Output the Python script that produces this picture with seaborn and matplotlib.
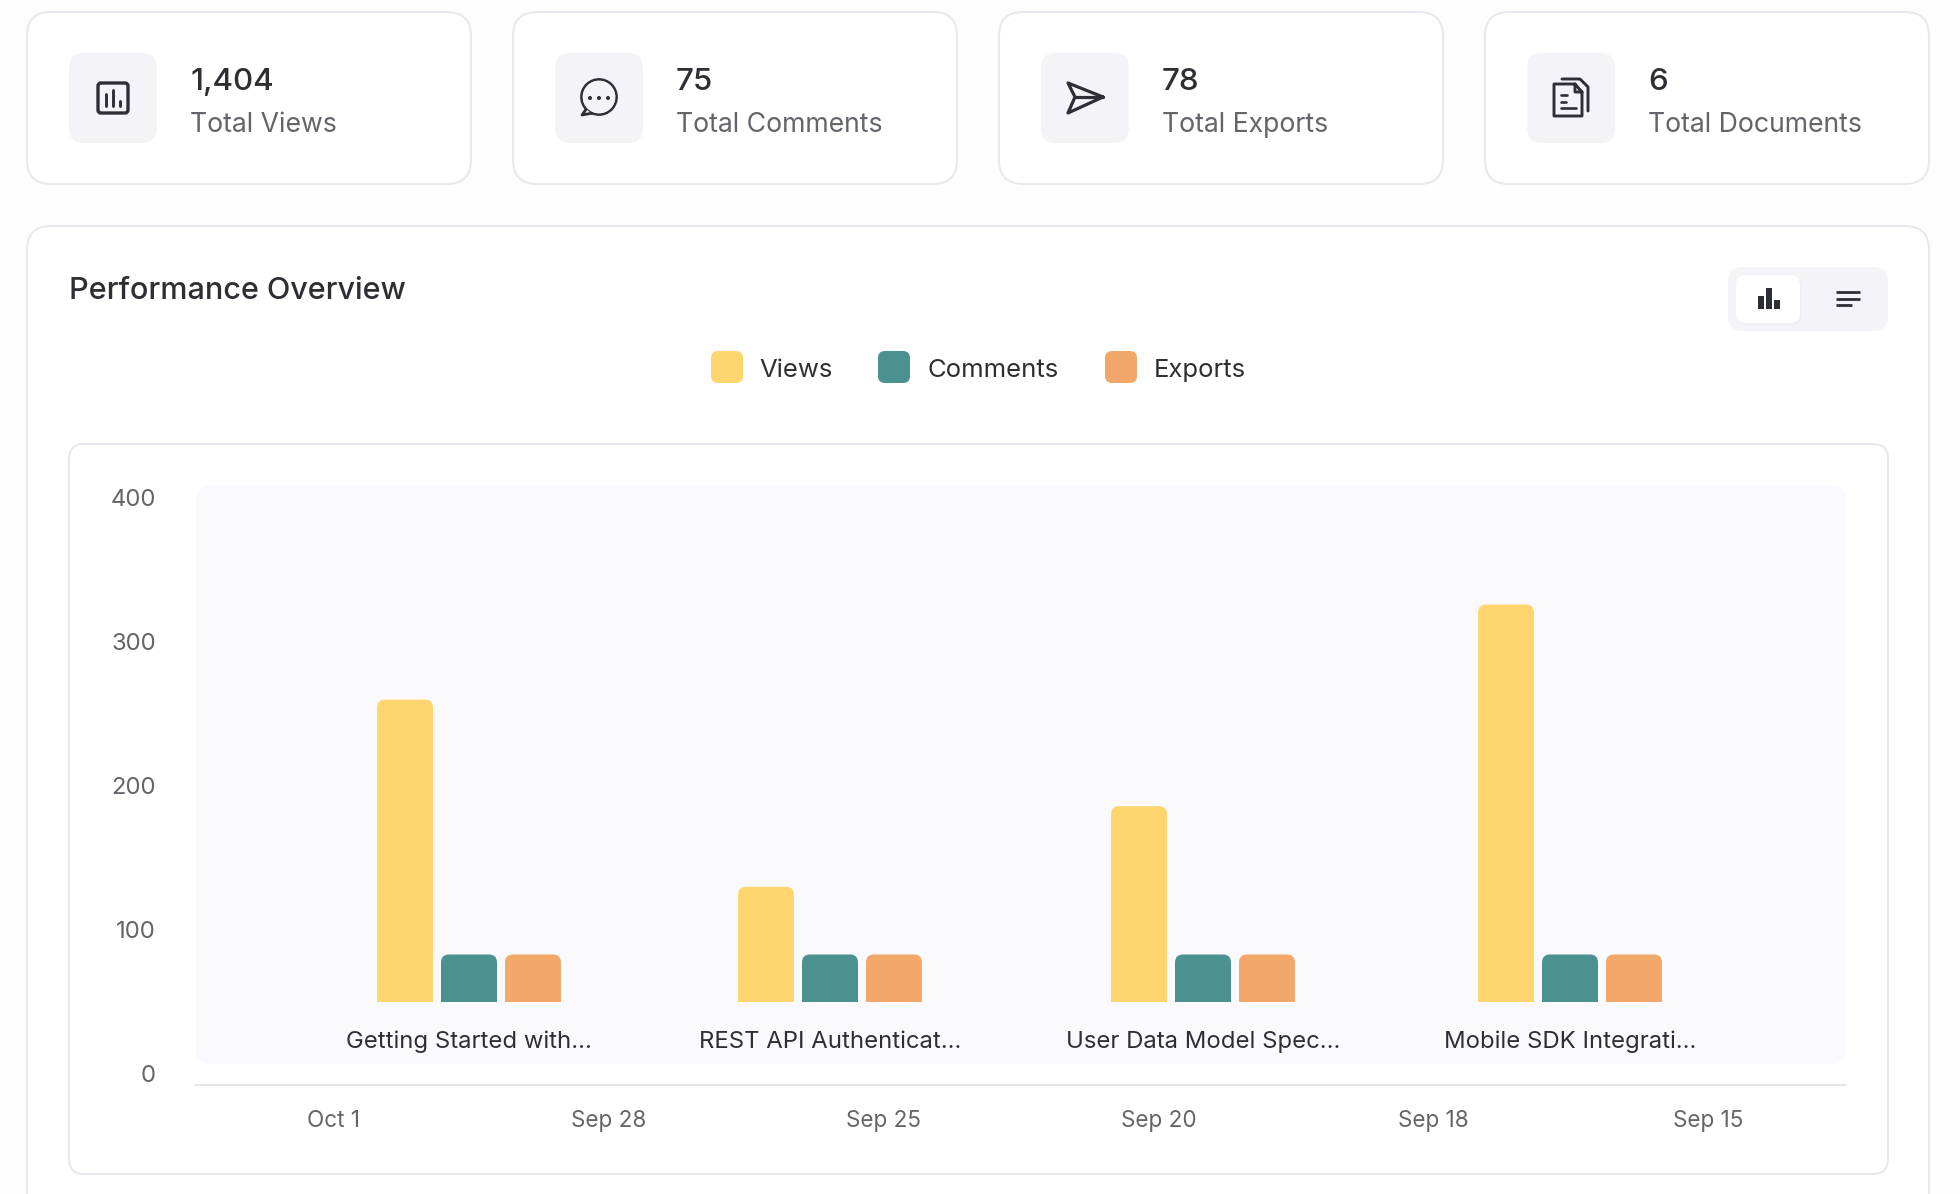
import pandas as pd
import matplotlib
matplotlib.use('Agg')
import matplotlib.pyplot as plt
import seaborn as sns
from matplotlib.patches import FancyBboxPatch, PathPatch, Circle, Polygon, Rectangle
from matplotlib.path import Path

# chart values
documents = ['Getting Started with...', 'REST API Authenticat...', 'User Data Model Spec...', 'Mobile SDK Integrati...']
views = [210, 80, 136, 276]
comments = [33, 33, 33, 33]
exports = [33, 33, 33, 33]
y_ticks = [0, 100, 200, 300, 400]
dates = ['Oct 1', 'Sep 28', 'Sep 25', 'Sep 20', 'Sep 18', 'Sep 15']
series_names = ['Views', 'Comments', 'Exports']

stat_values = ['1,404', '75', '78', '6']
stat_labels = ['Total Views', 'Total Comments', 'Total Exports', 'Total Documents']

# colours
YELLOW = '#FFD56F'
TEAL = '#4A9190'
ORANGE = '#F3A86B'
INK = '#2E2E35'
GREY = '#65646B'
BORDER = '#E8E8EE'
SOFT = '#F4F4F8'
PLOT_BG = '#FAFAFE'

W, H = 1960, 1194

sns.set_theme(style='white')
plt.rcParams['font.family'] = ['Inter', 'DejaVu Sans']

df = pd.DataFrame({'doc': documents, 'Views': views, 'Comments': comments, 'Exports': exports})
df_long = df.melt(id_vars='doc', value_vars=series_names, var_name='series', value_name='value')

fig = plt.figure(figsize=(W / 100, H / 100), dpi=100, facecolor='#FEFDFE')


def px_axes(left, top, right, bottom, z):
    # axes placed with pixel edges of the picture, y counted from the top
    a = fig.add_axes([left / W, 1 - bottom / H, (right - left) / W, (bottom - top) / H], zorder=z)
    a.set_facecolor('none')
    return a


# page layer: cards, icons, legend, in picture pixels
bg = px_axes(0, 0, W, H, 0)
bg.set_xlim(0, W)
bg.set_ylim(H, 0)
bg.axis('off')


def box(x0, y0, x1, y1, r, face, edge='none', lw=0, z=1):
    bg.add_patch(FancyBboxPatch((x0, y0), x1 - x0, y1 - y0, boxstyle=f'round,pad=0,rounding_size={r}',
                                facecolor=face, edgecolor=edge, linewidth=lw, zorder=z))


def stroke(xs, ys, lw=2.1):
    bg.plot(xs, ys, color=INK, lw=lw, solid_capstyle='round', solid_joinstyle='round', zorder=4)


def icon_views(x):
    bg.add_patch(FancyBboxPatch((x + 29, 83), 30, 30, boxstyle='round,pad=0,rounding_size=3',
                                facecolor='none', edgecolor=INK, linewidth=2.4, zorder=4))
    stroke([x + 37, x + 37], [94, 106])
    stroke([x + 44, x + 44], [90, 106])
    stroke([x + 51, x + 51], [101, 106])


def icon_comments(x):
    bg.add_patch(Circle((x + 44, 97), 17.5, facecolor='none', edgecolor=INK, linewidth=2, zorder=4))
    bg.add_patch(Polygon([(x + 32, 108), (x + 27, 115), (x + 38, 113)], closed=True, facecolor=SOFT,
                         edgecolor=INK, linewidth=2, joinstyle='round', zorder=4))
    bg.add_patch(Circle((x + 44, 97), 16.4, facecolor=SOFT, edgecolor='none', zorder=5))
    for dx in (35, 44, 53):
        bg.add_patch(Circle((x + dx, 98), 2, facecolor=INK, edgecolor='none', zorder=6))


def icon_exports(x):
    stroke([x + 62, x + 27, x + 34, x + 27, x + 62], [97, 83, 97, 113, 97], lw=2.3)
    stroke([x + 34, x + 62], [97, 97], lw=2.3)


def icon_documents(x):
    stroke([x + 48, x + 27, x + 27, x + 55, x + 55, x + 48, x + 48, x + 55],
           [84, 84, 116, 116, 92, 84, 92, 92], lw=2.1)
    stroke([x + 35, x + 53, x + 61, x + 61], [79, 79, 87, 111], lw=2.1)
    stroke([x + 34, x + 40], [95, 95], lw=1.9)
    stroke([x + 34, x + 39], [102, 102], lw=1.9)
    stroke([x + 34, x + 49], [108, 108], lw=1.9)


icons = [icon_views, icon_comments, icon_exports, icon_documents]
for i, x in enumerate([27, 513, 999, 1485]):
    box(x, 12, x + 444, 184, 24, 'white', BORDER, 1.5)
    box(x + 42, 53, x + 130, 143, 15, SOFT, z=2)
    icons[i](x + 42)
    bg.text(x + 163, 82.5, stat_values[i], fontsize=22.5, fontweight='medium', color=INK, va='center', zorder=4)
    bg.text(x + 163, 125, stat_labels[i], fontsize=19.2, color=GREY, va='center', zorder=4)

# main panel runs off the bottom of the picture
box(27, 226, 1929, 1300, 24, 'white', BORDER, 1.5)
box(69, 444, 1888, 1174, 15, 'white', BORDER, 1.5, z=2)
box(196, 485, 1846, 1064, 15, PLOT_BG, z=3)
bg.text(69, 291, 'Performance Overview', fontsize=22, fontweight='medium', color=INK, va='center', zorder=4)

# view toggle
box(1728, 267, 1888, 331, 15, SOFT, z=2)
box(1737, 277, 1801, 325, 10, '#EEEEF2', z=2)
box(1736, 275, 1800, 323, 10, 'white', z=3)
for bx, by in [(1758, 296), (1766, 288), (1774, 300)]:
    bg.add_patch(Rectangle((bx, by), 6, 309 - by, facecolor=INK, edgecolor='none', zorder=4))
for lx, ly in [(1860, 292), (1860, 298.5), (1852, 305)]:
    bg.plot([1836, lx], [ly, ly], color=INK, lw=2, solid_capstyle='butt', zorder=4)

# legend
legend_x = [(711, 759), (878, 927), (1105, 1154)]
for name, col, (sx, tx) in zip(series_names, [YELLOW, TEAL, ORANGE], legend_x):
    box(sx, 351, sx + 32, 383, 7, col, z=4)
    bg.text(tx, 370.5, name, fontsize=18.5, color=INK, va='center', zorder=4)

# axis layer: y ticks and dates. 0 sits at y=1073, 400 at y=497, axis line at y=1085
ax = px_axes(196, 485, 1846, 1085, 1)
px_per_unit = (1073 - 497) / 400
ax.set_ylim(-(1085 - 1073) / px_per_unit, (1073 - 485) / px_per_unit)
ax.set_xlim(-0.5, len(dates) - 0.5)
ax.set_yticks(y_ticks)
ax.set_xticks(range(len(dates)))
ax.set_xticklabels(dates)
ax.tick_params(axis='y', length=0, pad=29, labelsize=17.2, labelcolor=GREY)
ax.tick_params(axis='x', length=0, pad=18, labelsize=16.2, labelcolor=GREY)
for side in ['top', 'left', 'right']:
    ax.spines[side].set_visible(False)
ax.spines['bottom'].set_color('#E6E6EA')
ax.spines['bottom'].set_linewidth(1.5)

# bar layer: same unit size as the ticks, baseline at y=1002
ax_bars = px_axes(196, 485, 1846, 1064, 2)
sns.barplot(data=df_long, x='doc', y='value', hue='series', order=documents, hue_order=series_names,
            palette=[YELLOW, TEAL, ORANGE], saturation=1, width=0.523, gap=0.125,
            legend=False, ax=ax_bars)
ax_bars.set_ylim(-(1064 - 1002) / px_per_unit, (1002 - 485) / px_per_unit)
units_per_px = 1 / 367
ax_bars.set_xlim((196 - 469) * units_per_px, (1846 - 469) * units_per_px)
ax_bars.axis('off')

# group 2 sits a little left of an even spacing in the reference
group_shift = [0, -6 * units_per_px, 0, 0]


def rounded_top(p, shift, r_px=8):
    # rebuild a seaborn bar with rounded top corners
    x0 = p.get_x() + shift
    x1 = x0 + p.get_width()
    h = p.get_height()
    rx = r_px * units_per_px
    ry = r_px / px_per_unit
    verts = [(x0, 0), (x0, h - ry), (x0, h), (x0 + rx, h), (x1 - rx, h), (x1, h), (x1, h - ry), (x1, 0), (x0, 0)]
    codes = [Path.MOVETO, Path.LINETO, Path.CURVE3, Path.CURVE3, Path.LINETO, Path.CURVE3, Path.CURVE3,
             Path.LINETO, Path.CLOSEPOLY]
    return PathPatch(Path(verts, codes), facecolor=p.get_facecolor(), edgecolor='none')


for bars in ax_bars.containers:
    for i, p in enumerate(list(bars)):
        ax_bars.add_patch(rounded_top(p, group_shift[i]))
        p.set_visible(False)

for i, name in enumerate(documents):
    ax_bars.text(i + group_shift[i], -(1042 - 1002) / px_per_unit, name, fontsize=17.2, color=INK,
                 ha='center', va='center')

plt.savefig('out.png', dpi=100, facecolor=fig.get_facecolor())
plt.close()
